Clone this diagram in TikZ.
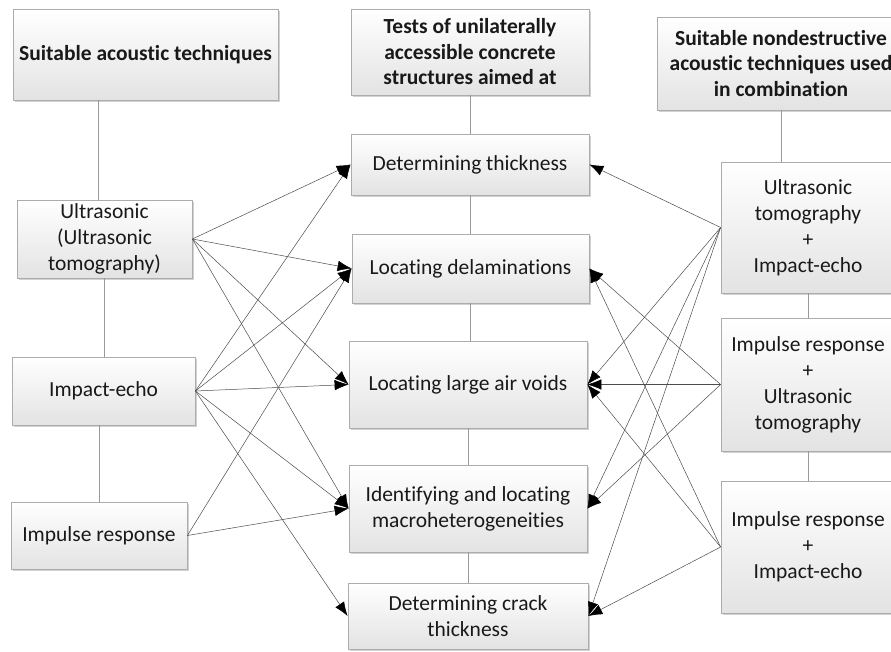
\documentclass[tikz,border=0pt]{standalone}
\usepackage{fontspec}
\setmainfont{Carlito}[Ligatures=NoCommon]
\usetikzlibrary{arrows.meta,shadows,calc}
\begin{document}
\begin{tikzpicture}[x=1pt,y=-1pt,
  box/.style={draw=gray!65, line width=0.8pt, top color=white, bottom color=gray!22,
    align=center, inner sep=0pt, font=\fontsize{21.5}{26}\selectfont, text=black!90,
    drop shadow={shadow xshift=1.5pt, shadow yshift=-1.5pt, opacity=0.35, fill=gray}},
  hdr/.style={box, font=\fontsize{21.5}{25.5}\selectfont\bfseries},
  link/.style={draw=gray!80, line width=0.8pt},
  arr/.style={draw=black!70, line width=0.5pt, -{Latex[length=14pt,width=10.5pt,fill=black,color=black]}}
]
\useasboundingbox (0,0) rectangle (891,651);
\clip (0,0) rectangle (891,651);
\fill[white] (0,0) rectangle (891,651);

% left column
\node[hdr, minimum width=265pt, minimum height=91pt] (hL) at (145.5,54.5) {Suitable acoustic techniques};
\node[box, minimum width=175pt, minimum height=78pt] (uL) at (104.5,239) {Ultrasonic\\(Ultrasonic\\tomography)};
\node[box, minimum width=183pt, minimum height=68pt] (iL) at (103.5,391) {Impact-echo};
\node[box, minimum width=176pt, minimum height=67pt] (pL) at (99,535.5) {Impulse response};

% middle column
\node[hdr, minimum width=238pt, minimum height=86pt] (hM) at (470,52) {Tests of unilaterally\\accessible concrete\\structures aimed at};
\node[box, minimum width=238pt, minimum height=61pt] (m1) at (470,164.5) {Determining thickness};
\node[box, minimum width=237pt, minimum height=69pt] (m2) at (470.5,268.5) {Locating delaminations};
\node[box, minimum width=238pt, minimum height=87pt] (m3) at (468,384.5) {Locating large air voids};
\node[box, minimum width=238pt, minimum height=87pt] (m4) at (468,508.5) {Identifying and locating\\macroheterogeneities};
\node[box, minimum width=240pt, minimum height=66pt] (m5) at (468,616) {Determining crack\\thickness};

% right column
\node[hdr, minimum width=248pt, minimum height=93pt] (hR) at (781,63.5) {Suitable nondestructive\\acoustic techniques used\\in combination};
\node[box, minimum width=174pt, minimum height=131pt] (r1) at (808,227.5) {Ultrasonic\\tomography\\+\\Impact-echo};
\node[box, minimum width=174pt, minimum height=133pt] (r2) at (808,384.5) {Impulse response\\+\\Ultrasonic\\tomography};
\node[box, minimum width=174pt, minimum height=132pt] (r3) at (808,547) {Impulse response\\+\\Impact-echo};

% vertical links
\coordinate (a1) at ($(uL.north)+(-6,0)$);
\draw[link] (a1) -- (a1 |- hL.south);
\draw[link] (uL.south) -- (uL.south |- iL.north);
\draw[link] (pL.north) -- (pL.north |- iL.south);
\draw[link] (m1.north) -- (m1.north |- hM.south);
\draw[link] (m1.south) -- (m1.south |- m2.north);
\draw[link] (m2.south) -- (m2.south |- m3.north);
\draw[link] (m3.south) -- (m3.south |- m4.north);
\draw[link] (m4.south) -- (m4.south |- m5.north);
\draw[link] (hR.south) -- (hR.south |- r1.north);
\draw[link] (r1.south) -- (r2.north);
\draw[link] (r2.south) -- (r3.north);

% arrows from left
\foreach \s/\t in {uL/m1,uL/m2,uL/m3,uL/m4,iL/m1,iL/m2,iL/m3,iL/m4,iL/m5,pL/m2,pL/m4}
  \draw[arr] (\s.east) -- (\t.west);
% arrows from right
\foreach \s/\t in {r1/m1,r1/m3,r1/m4,r1/m5,r2/m2,r2/m3,r2/m4,r3/m2,r3/m3,r3/m5}
  \draw[arr] (\s.west) -- (\t.east);
\end{tikzpicture}
\end{document}
